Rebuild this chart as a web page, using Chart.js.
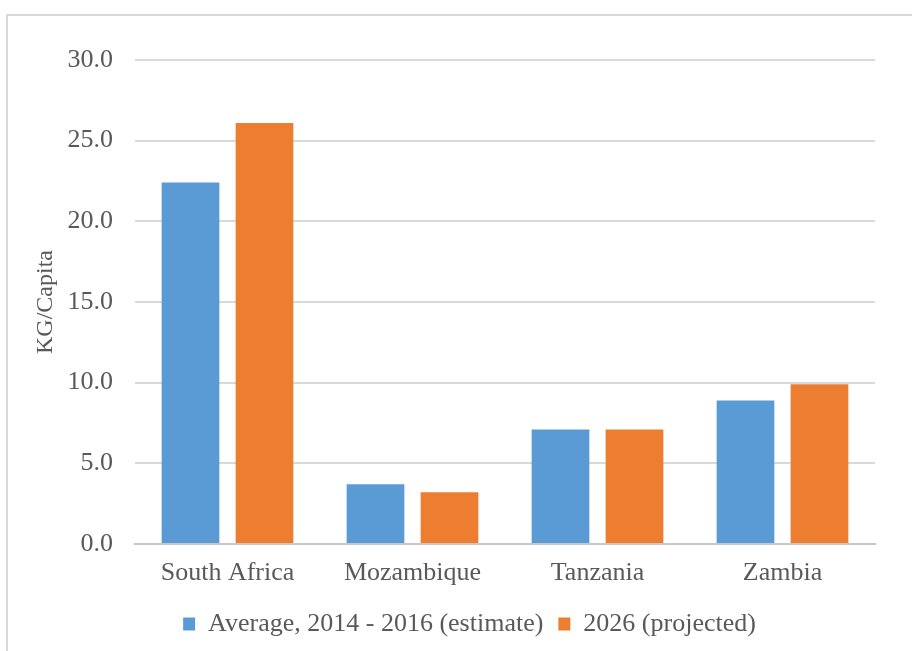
<!DOCTYPE html>
<html lang="en">
<head>
  <meta charset="UTF-8">
  <title>KG/Capita</title>
  <style>
    html, body { margin: 0; padding: 0; background: #fff; }
    #wrap { position: relative; width: 912px; height: 651px; }
  </style>
</head>
<body>
  <div id="wrap">
    <canvas id="canvas" width="912" height="651"></canvas>
  </div>
  <script src="https://cdn.jsdelivr.net/npm/chart.js"></script>
  <script type="application/javascript">
    const countries = ['South Africa', 'Mozambique', 'Tanzania', 'Zambia'];
    const average2014_2016 = [22.4, 3.7, 7.1, 8.9];
    const projected2026 = [26.1, 3.2, 7.1, 9.9];

    const serif = "'Liberation Serif', 'Times New Roman', serif";
    const grey = '#595959';

    // light frame around the chart, open to the right and bottom
    const frame = {
      id: 'frame',
      beforeDraw(chart) {
        const ctx = chart.ctx;
        ctx.save();
        ctx.strokeStyle = '#d9d9d9';
        ctx.lineWidth = 2;
        ctx.beginPath();
        ctx.moveTo(7, 660);
        ctx.lineTo(7, 15);
        ctx.lineTo(920, 15);
        ctx.stroke();
        ctx.restore();
      }
    };

    const canvas = document.querySelector('canvas');
    const chart = new Chart(canvas, {
      type: 'bar',
      data: {
        labels: countries,
        datasets: [
          { label: 'Average, 2014 - 2016 (estimate)', data: average2014_2016, backgroundColor: '#5b9bd5' },
          { label: '2026 (projected)', data: projected2026, backgroundColor: '#ed7d31' }
        ]
      },
      options: {
        responsive: false,
        animation: false,
        // left padding pushes the legend to the right; y axis width makes up for it
        layout: { padding: { top: 60, right: 37, bottom: 4, left: 64 } },
        datasets: { bar: { categoryPercentage: 0.8, barPercentage: 0.78 } },
        scales: {
          x: {
            afterFit(scale) { scale.height = 52; },
            grid: { display: false },
            border: { color: '#c8c8c8', width: 2 },
            ticks: { color: grey, font: { family: serif, size: 26 }, padding: 6 }
          },
          y: {
            min: 0, max: 30,
            afterFit(scale) { scale.width = 71; },
            grid: { color: '#d9d9d9', lineWidth: 2, drawTicks: false },
            border: { display: false },
            ticks: {
              stepSize: 5, color: grey, padding: 22,
              font: { family: serif, size: 26 },
              callback: v => v.toFixed(1)
            },
            title: {
              display: true, text: 'KG/Capita', color: grey,
              font: { family: serif, size: 24 },
              padding: { top: -33, bottom: 0 }
            }
          }
        },
        plugins: {
          legend: {
            position: 'bottom',
            labels: {
              color: grey, boxWidth: 12, boxHeight: 13, padding: 15,
              font: { family: serif, size: 26 }
            }
          },
          tooltip: { enabled: false }
        }
      },
      plugins: [frame]
    });
  </script>
</body>
</html>
